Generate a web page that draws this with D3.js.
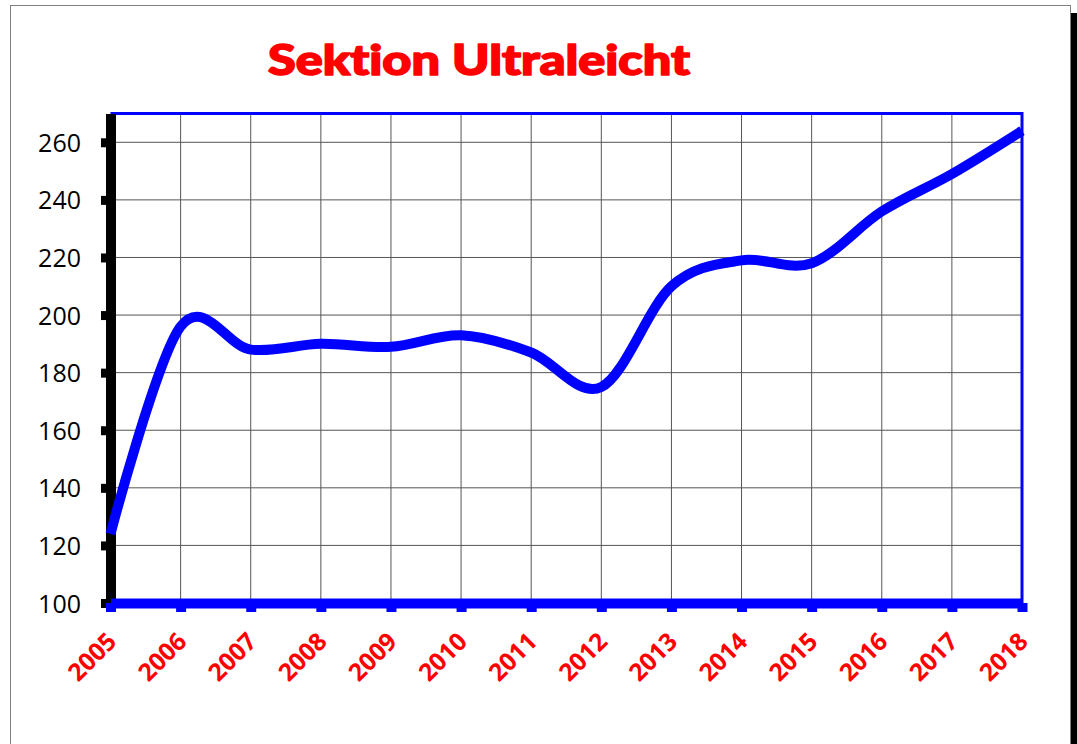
<!DOCTYPE html>
<html>
<head>
<meta charset="utf-8">
<script src="https://cdn.jsdelivr.net/npm/d3@7"></script>
<style>
    body { margin: 0; background: #fff; }
    svg { display: block; }
</style>
</head>
<body>
<svg id="chart" width="1077" height="744"></svg>
<script>
// values
var years = [2005, 2006, 2007, 2008, 2009, 2010, 2011, 2012, 2013, 2014, 2015, 2016, 2017, 2018];
var members = [124, 196, 188, 190, 189, 193, 187, 175, 210, 219, 218, 236, 249, 264];
var yTicks = [100, 120, 140, 160, 180, 200, 220, 240, 260];
var chartTitle = "Sektion Ultraleicht";

var svg = d3.select("#chart");

var x = d3.scaleLinear().domain([2005, 2018]).range([110.5, 1022]);
var y = d3.scaleLinear().domain([100, 270]).range([603, 113.5]);

// page frame + shadow
svg.append("rect")
    .attr("x", 1071)
    .attr("y", 13)
    .attr("width", 6)
    .attr("height", 740)
    .attr("fill", "#000");
svg.append("rect")
    .attr("x", 10.5)
    .attr("y", 5.5)
    .attr("width", 1060)
    .attr("height", 760)
    .attr("fill", "#fff")
    .attr("stroke", "#808080");

// title
svg.append("text")
    .attr("x", 268)
    .attr("y", 75)
    .attr("textLength", 422)
    .attr("lengthAdjust", "spacingAndGlyphs")
    .style("font-family", "Lato, 'Open Sans', sans-serif")
    .style("font-weight", 900)
    .style("font-size", "42px")
    .style("font-variant-ligatures", "none")
    .attr("fill", "#ff0000")
    .attr("stroke", "#ff0000")
    .attr("stroke-width", 1.6)
    .attr("stroke-linejoin", "round")
    .text(chartTitle);

// grid
var grid = svg.append("g").attr("stroke", "#555").attr("stroke-width", 1);
grid.selectAll(".vgrid")
    .data(years.slice(1, -1))
    .join("line")
    .attr("class", "vgrid")
    .attr("x1", d => x(d))
    .attr("x2", d => x(d))
    .attr("y1", y(270))
    .attr("y2", y(100));
grid.selectAll(".hgrid")
    .data(yTicks.slice(1))
    .join("line")
    .attr("class", "hgrid")
    .attr("x1", x(2005))
    .attr("x2", x(2018))
    .attr("y1", d => y(d))
    .attr("y2", d => y(d));

// top and right border
svg.append("path")
    .attr("d", "M" + x(2005) + "," + y(270) + "H" + x(2018) + "V" + y(100))
    .attr("fill", "none")
    .attr("stroke", "#0000ff")
    .attr("stroke-width", 3);

// y axis (black, thick)
var yAxis = svg.append("g")
    .attr("transform", "translate(" + x(2005) + ",0)")
    .call(d3.axisLeft(y).tickValues(yTicks).tickSize(9.5).tickSizeOuter(0).tickPadding(20));
yAxis.select(".domain").attr("stroke", "#000").attr("stroke-width", 10);
yAxis.selectAll(".tick line").attr("stroke", "#000").attr("stroke-width", 9);
yAxis.selectAll(".tick text")
    .attr("fill", "#000")
    .attr("dy", "0.36em")
    .style("font-family", "'Open Sans', sans-serif")
    .style("font-size", "25px");

// x axis (blue, thick)
var xAxis = svg.append("g")
    .attr("transform", "translate(0," + y(100) + ")")
    .call(d3.axisBottom(x).tickValues(years).tickFormat(d3.format("d")).tickSize(9).tickSizeOuter(0));
xAxis.select(".domain").attr("stroke", "#0000ff").attr("stroke-width", 10);
xAxis.selectAll(".tick line").attr("stroke", "#0000ff").attr("stroke-width", 10);
xAxis.selectAll(".tick text")
    .attr("x", 0)
    .attr("y", 0)
    .attr("dy", 0)
    .attr("transform", "translate(7,40) rotate(-45)")
    .attr("text-anchor", "end")
    .attr("fill", "#ff0000")
    .style("font-family", "'Open Sans', sans-serif")
    .style("font-weight", "bold")
    .style("font-size", "24.5px");

// the line
var line = d3.line()
    .x((d, i) => x(years[i]))
    .y(d => y(d))
    .curve(d3.curveCardinal.tension(0));

svg.append("path")
    .datum(members)
    .attr("d", line)
    .attr("fill", "none")
    .attr("stroke", "#0000ff")
    .attr("stroke-width", 10);
</script>
</body>
</html>
